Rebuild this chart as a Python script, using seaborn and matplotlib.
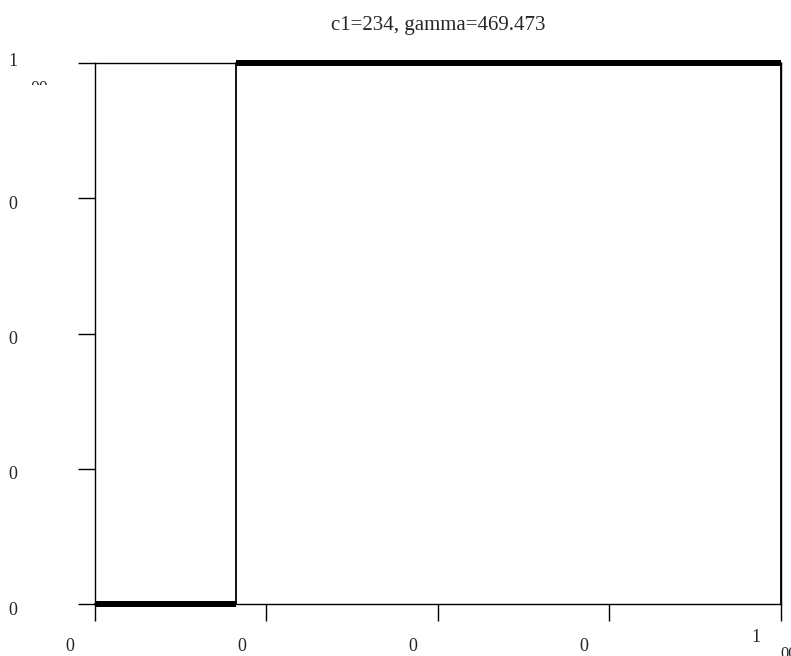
import matplotlib
matplotlib.use("Agg")
import matplotlib.pyplot as plt
import matplotlib.transforms as mtransforms
from matplotlib.patches import Rectangle
import seaborn as sns

# step curve (x, y) and its flat parts
path_x = [0, 0.205, 0.205, 1, 1]
path_y = [0, 0, 1, 1, 0]
flat_y = [0, 1]
flat_start = [0, 0.205]
flat_end = [0.205, 1]

ticks = [0, 0.25, 0.5, 0.75, 1]
tick_labels = ["0", "0", "0", "0", "1"]
title = "c1=234, gamma=469.473"

sns.set_style("ticks")
plt.rcParams['font.family'] = ['Liberation Serif', 'DejaVu Serif']

fig = plt.figure(figsize=(7.91, 6.56), dpi=100)
ax = fig.add_axes([0.120, 0.079, 0.867, 0.825])

sns.lineplot(x=path_x, y=path_y, sort=False, estimator=None, color="black",
             lw=1.3, ax=ax, clip_on=False)
ax.hlines(flat_y, flat_start, flat_end, color="black", lw=4.3, clip_on=False)

ax.set_xlim(0, 1)
ax.set_ylim(0, 1)
for s in ax.spines.values():
    s.set_linewidth(1.0)
    s.set_color("black")

ax.set_xticks(ticks)
ax.set_xticklabels(tick_labels)
ax.set_yticks(ticks)
ax.set_yticklabels(tick_labels)
ax.tick_params(axis="both", length=12, width=1, color="black", labelsize=13)
ax.tick_params(axis="x", pad=12)
ax.tick_params(axis="y", pad=44)

# shift labels like the reference
for i, lab in enumerate(ax.get_xticklabels()):
    dy = 9 if i == len(ticks) - 1 else 0
    lab.set_transform(lab.get_transform() +
                      mtransforms.ScaledTranslation(-25 / 100, dy / 100, fig.dpi_scale_trans))
for i, lab in enumerate(ax.get_yticklabels()):
    dy = 3 if i == len(ticks) - 1 else -4
    lab.set_transform(lab.get_transform() +
                      mtransforms.ScaledTranslation(0, dy / 100, fig.dpi_scale_trans))

# clipped "00" fragments
t1 = fig.text(39 / 791, 1 - 89 / 656, "00", fontsize=13, ha="center", va="center")
t1.set_clip_path(Rectangle((0, 1 - 85 / 656), 1, 0.2, transform=fig.transFigure))
fig.text(789 / 791, 1 - 654 / 656, "00", fontsize=12, ha="center", va="center")

ax.set_title(title, fontsize=15, pad=24)

fig.savefig("out.png", dpi=100)
